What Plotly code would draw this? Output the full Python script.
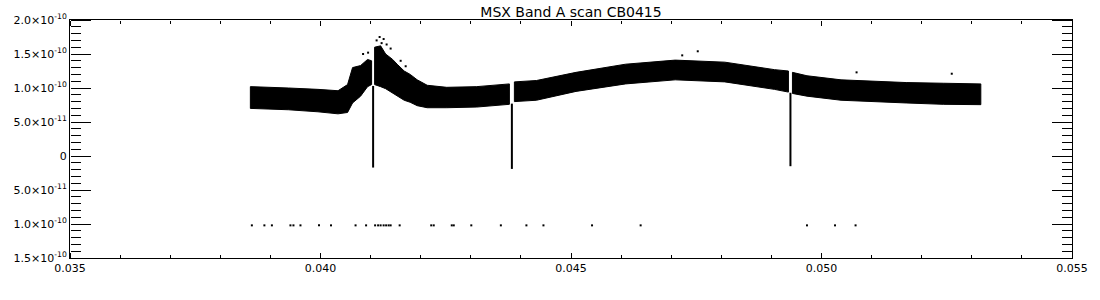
import plotly.graph_objects as go

# ---- data (flux values in units of 1e-10) ----
band_x = [0.03860, 0.03886, 0.03936, 0.03995, 0.04035, 0.04054, 0.04064, 0.04080,
          0.04094, 0.04102,
          0.04108, 0.04120, 0.04130, 0.04144, 0.04153, 0.04167, 0.04179, 0.04193,
          0.04213, 0.04252, 0.04312, 0.04377,
          0.04387, 0.04431, 0.04510, 0.04609, 0.04708, 0.04807, 0.04906, 0.04934,
          0.04942, 0.04971, 0.05039, 0.05104, 0.05169, 0.05243, 0.05318]
band_hi = [1.02, 1.01, 1.00, 0.98, 0.96, 1.05, 1.30, 1.33,
           1.42, 1.40,
           1.60, 1.62, 1.50, 1.42, 1.35, 1.25, 1.20, 1.12,
           1.04, 1.01, 1.02, 1.06,
           1.09, 1.11, 1.23, 1.35, 1.41, 1.38, 1.27, 1.25,
           1.23, 1.18, 1.12, 1.10, 1.08, 1.07, 1.06]
band_lo = [0.70, 0.69, 0.68, 0.65, 0.62, 0.64, 0.78, 0.88,
           1.02, 1.05,
           1.05, 1.02, 0.99, 0.93, 0.88, 0.82, 0.79, 0.74,
           0.71, 0.71, 0.72, 0.76,
           0.80, 0.82, 0.95, 1.06, 1.12, 1.09, 0.98, 0.94,
           0.92, 0.88, 0.82, 0.80, 0.78, 0.76, 0.755]

dip_x = [0.04105, 0.04382, 0.04938]
dip_top = [1.03, 0.77, 0.93]
dip_min = [-0.17, -0.19, -0.15]

spike_x = [0.04085, 0.04095, 0.04112, 0.04118, 0.04122, 0.04126, 0.04132, 0.04140,
           0.04160, 0.04170, 0.04722, 0.04753, 0.05070, 0.05260]
spike_y = [1.50, 1.52, 1.70, 1.75, 1.66, 1.72, 1.64, 1.58,
           1.40, 1.32, 1.48, 1.54, 1.23, 1.21]

low_x = [0.03863, 0.03888, 0.03903, 0.03940, 0.03946, 0.03960, 0.03997, 0.04021,
         0.04070, 0.04091, 0.04109, 0.04115, 0.04120, 0.04126, 0.04131, 0.04136,
         0.04140, 0.04158, 0.04221, 0.04226, 0.04262, 0.04266, 0.04301, 0.04360,
         0.04411, 0.04445, 0.04542, 0.04639, 0.04971, 0.05027, 0.05068]
low_y = -1.02

ytick_vals = [-1.5, -1.0, -0.5, 0.0, 0.5, 1.0, 1.5, 2.0]
ytick_mant = ["1.5", "1.0", "5.0", "0", "5.0", "1.0", "1.5", "2.0"]
ytick_exp = ["-10", "-10", "-11", "", "-11", "-10", "-10", "-10"]

S = 1e-10
XR = [0.035, 0.055]
YR = [-1.5e-10, 2.0e-10]

ytick_text = [m + "×10<sup>" + e + "</sup>" if e else m
              for m, e in zip(ytick_mant, ytick_exp)]

# ---- build band polygons, split at the dips ----
bounds = [-1.0] + dip_x + [1.0]
px, py = [], []
for k in range(len(bounds) - 1):
    idx = [i for i, x in enumerate(band_x) if bounds[k] < x < bounds[k + 1]]
    if not idx:
        continue
    xs = [band_x[i] for i in idx]
    hi = [band_hi[i] * S for i in idx]
    lo = [band_lo[i] * S for i in idx]
    px += xs + xs[::-1] + [xs[0], None]
    py += hi + lo[::-1] + [hi[0], None]

fig = go.Figure()
fig.add_trace(go.Scatter(x=px, y=py, mode="lines", fill="toself",
                         fillcolor="black", line=dict(color="black", width=1),
                         hoverinfo="skip", showlegend=False))

dx, dy = [], []
for x, t, m in zip(dip_x, dip_top, dip_min):
    dx += [x, x, None]
    dy += [t * S, m * S, None]
fig.add_trace(go.Scatter(x=dx, y=dy, mode="lines", line=dict(color="black", width=2),
                         showlegend=False))

fig.add_trace(go.Scatter(x=spike_x, y=[v * S for v in spike_y], mode="markers",
                         marker=dict(color="black", size=2, symbol="square"),
                         showlegend=False))
fig.add_trace(go.Scatter(x=low_x, y=[low_y * S] * len(low_x), mode="markers",
                         marker=dict(color="black", size=2, symbol="square"),
                         showlegend=False))

# empty traces so the tick-only overlay axes get drawn
for xa, ya in [("x2", "y"), ("x3", "y"), ("x4", "y"), ("x5", "y"),
               ("x", "y2"), ("x", "y3"), ("x", "y4"), ("x", "y5")]:
    fig.add_trace(go.Scatter(x=[], y=[], xaxis=xa, yaxis=ya, showlegend=False,
                             hoverinfo="skip"))

font = dict(family="DejaVu Sans", size=11, color="black")


def tick_axis(rng, dtick, ticklen, side, pos, overlay):
    return dict(range=rng, tickmode="linear", dtick=dtick,
                ticks="outside", ticklen=ticklen, tickwidth=1, tickcolor="black",
                showticklabels=False, showline=False, showgrid=False, zeroline=False,
                side=side, anchor="free", position=pos, overlaying=overlay)


fig.update_layout(
    width=1100, height=300,
    margin=dict(l=70, r=20, t=20, b=42),
    paper_bgcolor="white", plot_bgcolor="white",
    title=dict(text="MSX Band A scan CB0415", x=0.5, xref="paper",
               y=0.96, yref="container", yanchor="middle",
               font=dict(family="DejaVu Sans", size=14, color="black")),
    font=font,
    xaxis=dict(range=XR, tickmode="linear", tick0=0.035, dtick=0.005,
               tickformat=".3f", ticks="",
               showline=True, linecolor="black", linewidth=1, mirror=True,
               showgrid=False, zeroline=False, tickfont=font),
    yaxis=dict(range=YR, tickmode="array",
               tickvals=[v * S for v in ytick_vals], ticktext=ytick_text,
               ticks="",
               showline=True, linecolor="black", linewidth=1, mirror=True,
               showgrid=False, zeroline=False, tickfont=font),
    # bottom edge, ticks pointing up into the plot
    xaxis2=tick_axis(XR, 0.005, 5, "top", 0, "x"),
    xaxis3=tick_axis(XR, 0.001, 3, "top", 0, "x"),
    # top edge, ticks pointing down
    xaxis4=tick_axis(XR, 0.005, 5, "bottom", 1, "x"),
    xaxis5=tick_axis(XR, 0.001, 3, "bottom", 1, "x"),
    # left edge, ticks pointing right
    yaxis2=tick_axis(YR, 5e-11, 20, "right", 0, "y"),
    yaxis3=tick_axis(YR, 1e-11, 10, "right", 0, "y"),
    # right edge, ticks pointing left
    yaxis4=tick_axis(YR, 5e-11, 20, "left", 1, "y"),
    yaxis5=tick_axis(YR, 1e-11, 10, "left", 1, "y"),
)

fig.write_html("out.html")
